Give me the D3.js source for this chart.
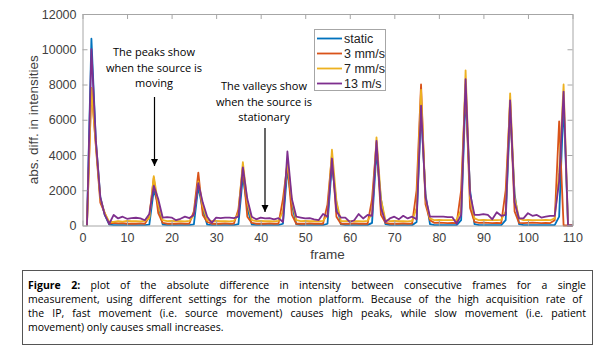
<!DOCTYPE html>
<html><head><meta charset="utf-8">
<script src="https://cdn.jsdelivr.net/npm/d3@7"></script>
<style>body{margin:0;background:#fff}svg{display:block}</style>
</head><body>
<svg id="c" width="600" height="352"></svg>
<script>
const frames = d3.range(1, 111);
const seriesNames = ["static", "3 mm/s", "7 mm/s", "13 m/s"];
const seriesColors = ["#0072BD", "#D95319", "#EDB120", "#7E2F8E"];
const staticVals = [0,10600,4800,1600,600,50,20,20,20,20,20,20,20,20,50,2000,1200,50,20,20,20,20,20,20,60,2200,900,50,20,20,20,20,20,20,80,2800,1000,50,20,20,20,20,20,20,100,3200,1200,60,20,20,20,20,20,20,100,3500,1300,60,20,20,20,20,20,20,150,4200,1500,80,20,20,20,20,20,20,200,6500,1800,80,20,20,20,20,20,20,300,7500,2000,80,20,20,20,20,20,20,300,6500,1800,80,20,20,20,20,20,20,20,20,500,7000,0,0];
const mm3Vals = [0,7800,4500,1300,700,100,150,120,130,100,110,100,120,100,500,2700,700,150,100,110,100,120,100,110,800,3000,600,200,100,110,100,120,100,110,900,3300,500,150,100,110,100,120,100,110,1500,3500,600,100,110,100,120,100,110,100,1200,4000,500,100,110,100,120,100,110,100,1500,4700,600,150,100,110,100,120,100,110,2000,8000,1200,300,150,160,150,140,150,140,2000,8000,1000,200,150,160,150,140,150,140,2000,7000,800,150,140,150,160,150,140,150,140,300,5900,0,0,0];
const mm7Vals = [0,7800,4600,1500,700,200,200,250,220,260,240,250,230,260,400,2800,1200,300,250,260,240,250,230,260,600,2500,1100,300,250,260,240,250,230,260,700,3600,1300,300,250,260,240,250,230,260,800,3700,1400,300,250,260,240,250,230,260,600,4300,1400,250,250,260,240,250,230,260,700,5000,1500,300,250,260,240,250,230,260,1000,7700,1500,400,300,320,300,310,300,320,900,8800,1600,400,300,320,300,310,300,320,800,7500,1600,400,300,320,300,310,300,320,300,400,3000,8000,0,0];
const m13Vals = [0,10000,4800,1600,600,100,600,400,500,380,420,440,400,300,650,2250,1500,450,480,450,300,380,500,420,600,2400,1300,500,150,450,420,450,450,420,500,3300,1500,500,350,450,400,420,350,420,200,4200,1500,500,450,400,420,350,300,650,500,3800,800,450,450,200,300,650,400,600,550,4800,1000,200,400,500,350,550,400,500,350,6800,1600,500,500,500,500,480,480,100,600,8300,1800,600,600,650,600,350,750,550,600,7100,1300,400,400,700,550,600,450,500,550,550,2500,7600,0,0];
const xTicks = [0,10,20,30,40,50,60,70,80,90,100,110];
const yTicks = [0,2000,4000,6000,8000,10000,12000];
const captionLines = [
  "plot of the absolute difference in intensity between consecutive frames for a single",
  "measurement, using different settings for the motion platform.  Because of the high acquisition rate of",
  "the IP, fast movement (i.e. source movement) causes high peaks, while slow movement (i.e. patient",
  "movement) only causes small increases."
];
const allSeries = [staticVals, mm3Vals, mm7Vals, m13Vals];

const svg = d3.select("#c");
const L = 82.5, R = 572.5, T = 14, B = 225.5;
const x = d3.scaleLinear().domain([0,110]).range([L,R]);
const y = d3.scaleLinear().domain([0,12000]).range([B,T]);
const axisColor = "#a6a6a6", textColor = "#404040";
const tickFont = "Liberation Sans, Arial, sans-serif";

// lines
const line = d3.line().x((d,i)=>x(frames[i])).y(d=>y(d));
allSeries.forEach((s,k)=>{
  svg.append("path").attr("d", line(s)).attr("fill","none")
    .attr("stroke", seriesColors[k]).attr("stroke-width",1.8).attr("stroke-linejoin","round");
});

// axes
const gx = svg.append("g").attr("transform",`translate(0,${B})`)
  .call(d3.axisBottom(x).tickValues(xTicks).tickSizeInner(-5).tickSizeOuter(0).tickPadding(8));
const gxt = svg.append("g").attr("transform",`translate(0,${T})`)
  .call(d3.axisTop(x).tickValues(xTicks).tickSizeInner(-5).tickSizeOuter(0).tickFormat(""));
const gy = svg.append("g").attr("transform",`translate(${L},0)`)
  .call(d3.axisLeft(y).tickValues(yTicks).tickSizeInner(-5).tickSizeOuter(0).tickPadding(6).tickFormat(d3.format("d")));
const gyr = svg.append("g").attr("transform",`translate(${R},0)`)
  .call(d3.axisRight(y).tickValues(yTicks).tickSizeInner(-5).tickSizeOuter(0).tickFormat(""));
[gx,gxt,gy,gyr].forEach(g=>{
  g.selectAll("path").attr("stroke",axisColor);
  g.selectAll("line").attr("stroke",axisColor);
  g.selectAll("text").attr("fill",textColor).style("font-family",tickFont).style("font-size","12.5px");
});
// remove end ticks drawn on box edges for top/right at 0/110 duplicates is fine

svg.append("text").attr("x",(L+R)/2).attr("y",259).attr("text-anchor","middle")
  .style("font-family",tickFont).style("font-size","13.5px").attr("fill",textColor).text("frame");
svg.append("text").attr("transform",`translate(38,${(T+B)/2}) rotate(-90)`).attr("text-anchor","middle")
  .style("font-family",tickFont).style("font-size","13.5px").attr("fill",textColor).text("abs. diff. in intensities");

// legend
const lg = svg.append("g");
lg.append("rect").attr("x",314.5).attr("y",29.5).attr("width",71).attr("height",61)
  .attr("fill","#fff").attr("stroke","#a6a6a6");
seriesNames.forEach((n,i)=>{
  const yy = 38.5 + i*15;
  lg.append("line").attr("x1",317).attr("x2",342).attr("y1",yy).attr("y2",yy)
    .attr("stroke",seriesColors[i]).attr("stroke-width",1.8);
  lg.append("text").attr("x",344).attr("y",yy+4.5).style("font-family",tickFont).style("font-size","12.5px")
    .attr("fill","#222").text(n);
});

// annotations
const annFont = "Open Sans, sans-serif";
svg.append("defs").append("marker").attr("id","ah").attr("viewBox","0 0 10 10").attr("refX",10).attr("refY",5)
  .attr("markerWidth",6).attr("markerHeight",6).attr("orient","auto")
  .append("path").attr("d","M0,0 L10,5 L0,10 z").attr("fill","#000");
function ann(lines, cx, y0, ax, ay1, ay2){
  lines.forEach((t,i)=>{
    svg.append("text").attr("x",cx).attr("y",y0+i*15.5).attr("text-anchor","middle")
      .style("font-family",annFont).style("font-size","11px").attr("fill","#000").text(t);
  });
  svg.append("line").attr("x1",ax).attr("x2",ax).attr("y1",ay1).attr("y2",ay2)
    .attr("stroke","#000").attr("stroke-width",1.2).attr("marker-end","url(#ah)");
}
ann(["The peaks show","when the source is","moving"],154,56,154.5,97,166);
ann(["The valleys show","when the source is","stationary"],264,90,265,128,212);

// caption
svg.append("rect").attr("x",22.5).attr("y",270.5).attr("width",570).attr("height",74)
  .attr("fill","#fff").attr("stroke","#555").attr("stroke-width",1);
const capFont = "Open Sans, sans-serif";
const capX0 = 28, capX1 = 586;
captionLines.forEach((t,i)=>{
  const tx = svg.append("text").attr("x",capX0).attr("y",289+i*14)
    .style("font-family",capFont).style("font-size","10.5px").attr("fill","#000");
  if(i===0){
    tx.append("tspan").style("font-weight","bold").text("Figure 2:");
    tx.append("tspan").text(" "+t);
  } else tx.text(t);
  if(i<3){
    const w = tx.node().getComputedTextLength();
    const full = (i===0? "Figure 2: "+t : t);
    const spaces = (full.match(/ /g)||[]).length;
    if(spaces>0) tx.attr("word-spacing", ((capX1-capX0-w)/spaces).toFixed(3));
  }
});
</script>
</body></html>
